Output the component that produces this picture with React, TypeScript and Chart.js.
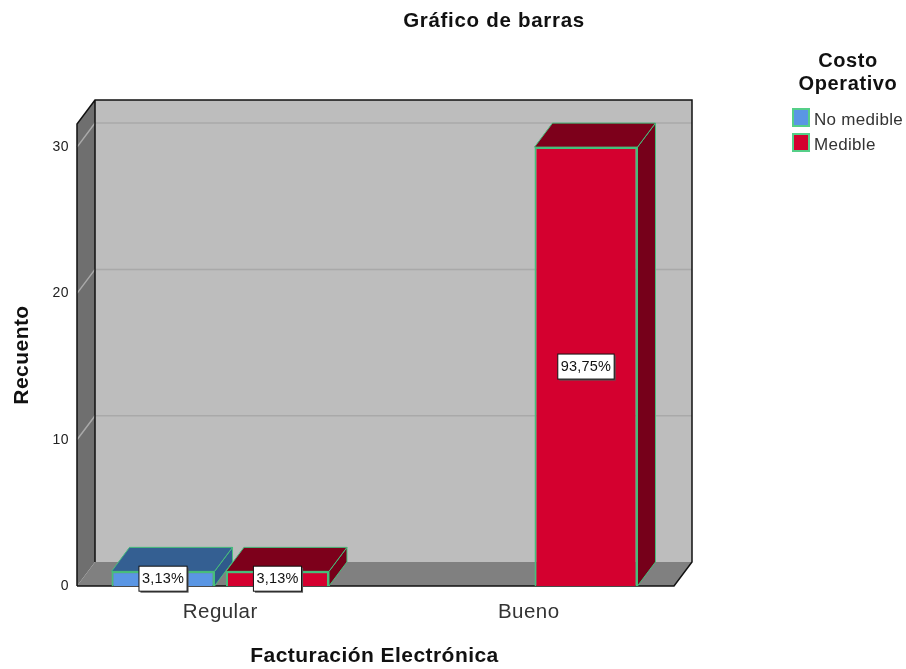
import React, { useEffect, useRef } from "react";
import { Chart, registerables } from "chart.js";

Chart.register(...registerables);

const categories = ["Regular", "Bueno"];
const noMedibleValues = [1, null];
const medibleValues = [1, 30];
const noMedibleLabels = ["3,13%", null];
const medibleLabels = ["3,13%", "93,75%"];
const seriesNames = ["No medible", "Medible"];
const yTicks = [0, 10, 20, 30];
const chartTitle = "Gráfico de barras";
const legendTitle = ["Costo", "Operativo"];
const xTitle = "Facturación Electrónica";
const yTitle = "Recuento";

const FONT = '"Liberation Sans", Arial, sans-serif';
const DX = 18;
const DY = 24;
const INSET_L = 11;
const INSET_R = 9;
const GREEN = "#46bf7b";
const FILLS = ["#5a96e4", "#d4002f"];
const TOPS = ["#345f92", "#7d001b"];
const SIDES = ["#2f5a8c", "#76001a"];

function poly(ctx: CanvasRenderingContext2D, pts: number[][], fill?: string, stroke?: string, lw = 1) {
  ctx.beginPath();
  pts.forEach((p, i) => (i ? ctx.lineTo(p[0], p[1]) : ctx.moveTo(p[0], p[1])));
  ctx.closePath();
  if (fill) { ctx.fillStyle = fill; ctx.fill(); }
  if (stroke) { ctx.strokeStyle = stroke; ctx.lineWidth = lw; ctx.stroke(); }
}

const scene = {
  id: "scene",
  beforeDraw(chart: any) {
    chart.ctx.letterSpacing = "0.45px";
  },
  beforeDatasetsDraw(chart: any) {
    const { ctx, chartArea: a, scales } = chart;
    const l = a.left + INSET_L;
    const r = a.right - INSET_R;
    const t = a.top;
    const b = a.bottom;
    ctx.save();
    // walls and floor
    poly(ctx, [[l + DX, t - DY], [r + DX, t - DY], [r + DX, b - DY], [l + DX, b - DY]], "#bdbdbd");
    poly(ctx, [[l, t], [l + DX, t - DY], [l + DX, b - DY], [l, b]], "#6f6f6f");
    poly(ctx, [[l, b], [l + DX, b - DY], [r + DX, b - DY], [r, b]], "#808080");
    // gridlines
    ctx.strokeStyle = "#a9a9a9";
    ctx.lineWidth = 1.5;
    yTicks.forEach((v) => {
      if (v === 0) return;
      const y = scales.y.getPixelForValue(v);
      ctx.beginPath();
      ctx.moveTo(l, y);
      ctx.lineTo(l + DX, y - DY);
      ctx.lineTo(r + DX, y - DY);
      ctx.stroke();
    });
    // outline
    ctx.strokeStyle = "#111";
    ctx.lineWidth = 1.5;
    ctx.beginPath();
    ctx.moveTo(l, b);
    ctx.lineTo(l, t);
    ctx.lineTo(l + DX, t - DY);
    ctx.lineTo(r + DX, t - DY);
    ctx.lineTo(r + DX, b - DY);
    ctx.lineTo(r, b);
    ctx.lineTo(l, b);
    ctx.moveTo(l + DX, t - DY);
    ctx.lineTo(l + DX, b - DY);
    ctx.stroke();
    // 3D faces of bars
    chart.data.datasets.forEach((_: any, i: number) => {
      chart.getDatasetMeta(i).data.forEach((bar: any, j: number) => {
        if (chart.data.datasets[i].data[j] == null) return;
        const p = bar.getProps(["x", "y", "base", "width"], true);
        const x0 = p.x - p.width / 2;
        const x1 = p.x + p.width / 2;
        poly(ctx, [[x1, p.y], [x1 + DX, p.y - DY], [x1 + DX, p.base - DY], [x1, p.base]], SIDES[i], GREEN, 1);
        poly(ctx, [[x0, p.y], [x0 + DX, p.y - DY], [x1 + DX, p.y - DY], [x1, p.y]], TOPS[i], GREEN, 1);
      });
    });
    ctx.restore();
  },
  afterDatasetsDraw(chart: any) {
    const { ctx } = chart;
    const labels = [noMedibleLabels, medibleLabels];
    ctx.save();
    ctx.letterSpacing = "0.2px";
    ctx.font = `14.5px ${FONT}`;
    ctx.textAlign = "center";
    ctx.textBaseline = "middle";
    labels.forEach((arr, i) => {
      chart.getDatasetMeta(i).data.forEach((bar: any, j: number) => {
        const text = arr[j];
        if (!text) return;
        const p = bar.getProps(["x", "y", "base"], true);
        const cy = (p.y + p.base) / 2;
        const w = ctx.measureText(text).width + 6;
        const h = 25;
        ctx.fillStyle = "#555";
        ctx.fillRect(p.x - w / 2 + 1.5, cy - h / 2 + 1.5, w, h);
        ctx.fillStyle = "#fff";
        ctx.fillRect(p.x - w / 2, cy - h / 2, w, h);
        ctx.strokeStyle = "#111";
        ctx.lineWidth = 1;
        ctx.strokeRect(p.x - w / 2, cy - h / 2, w, h);
        ctx.fillStyle = "#111";
        ctx.fillText(text, p.x, cy + 0.5);
      });
    });
    // title
    ctx.fillStyle = "#111";
    ctx.letterSpacing = "0.7px";
    ctx.font = `bold 20.5px ${FONT}`;
    ctx.fillText(chartTitle, 494, 21);
    // legend
    ctx.letterSpacing = "0.6px";
    ctx.font = `bold 20px ${FONT}`;
    ctx.fillText(legendTitle[0], 848, 61);
    ctx.fillText(legendTitle[1], 848, 84);
    ctx.letterSpacing = "0.3px";
    ctx.font = `17px ${FONT}`;
    ctx.textAlign = "left";
    seriesNames.forEach((name, i) => {
      const y = 109 + i * 25;
      ctx.fillStyle = FILLS[i];
      ctx.fillRect(793, y, 16, 17);
      ctx.strokeStyle = "#55cf88";
      ctx.lineWidth = 2;
      ctx.strokeRect(793, y, 16, 17);
      ctx.fillStyle = "#333";
      ctx.fillText(name, 814, y + 11);
    });
    ctx.restore();
  },
};

export default function App() {
  const ref = useRef<HTMLCanvasElement>(null);
  useEffect(() => {
    const chart = new Chart(ref.current!, {
      type: "bar",
      data: {
        labels: categories,
        datasets: [
          { label: seriesNames[0], data: noMedibleValues, backgroundColor: FILLS[0], borderColor: GREEN, borderWidth: 2, categoryPercentage: 0.742, barPercentage: 0.9 },
          { label: seriesNames[1], data: medibleValues, backgroundColor: FILLS[1], borderColor: GREEN, borderWidth: 2, categoryPercentage: 0.742, barPercentage: 0.9 },
        ],
      } as any,
      options: {
        animation: false,
        responsive: false,
        layout: { padding: { top: 124, right: 223, left: 0, bottom: 0 } },
        plugins: { legend: { display: false }, title: { display: false }, tooltip: { enabled: false } },
        scales: {
          x: {
            grid: { display: false, drawTicks: false },
            border: { display: false },
            ticks: { color: "#333", font: { family: FONT, size: 20.5 }, padding: 14, maxRotation: 0, autoSkip: false },
            title: { display: true, text: xTitle, color: "#111", font: { family: FONT, size: 21, weight: "bold" }, padding: { top: 17, bottom: 0 } },
            afterFit: (s: any) => { s.height = 83; },
          },
          y: {
            min: 0,
            max: 31.58,
            grid: { display: false, drawTicks: false },
            border: { display: false },
            ticks: { stepSize: 10, includeBounds: false, color: "#222", font: { family: FONT, size: 14 }, mirror: true, crossAlign: "far", padding: -12.5 },
            title: { display: true, text: yTitle, color: "#111", font: { family: FONT, size: 21, weight: "bold" }, padding: { top: 10, bottom: 0 } },
            afterFit: (s: any) => { s.width = 66; },
          },
        },
      } as any,
      plugins: [scene],
    });
    return () => chart.destroy();
  }, []);
  return (
    <div style={{ position: "absolute", left: 0, top: 0, width: 906, height: 669, background: "#fff" }}>
      <canvas ref={ref} width={906} height={669} style={{ display: "block" }} />
    </div>
  );
}
